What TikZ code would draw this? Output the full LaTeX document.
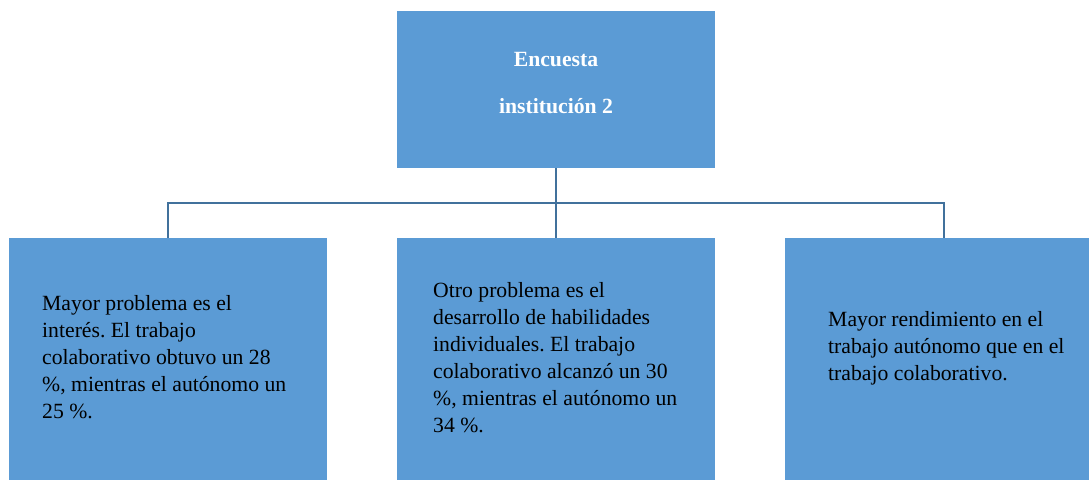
\documentclass[tikz,border=0pt]{standalone}
\usepackage{fontspec}
\setmainfont{Liberation Serif}
\frenchspacing
\definecolor{boxblue}{HTML}{5B9BD5}
\definecolor{linkblue}{HTML}{41719C}
\tikzset{
  x=1pt, y=-1pt,
  box/.style={rectangle, fill=boxblue, draw=none, inner sep=0pt, anchor=north west},
  link/.style={draw=linkblue, line width=2.4pt},
  bodytext/.style={anchor=north west, inner sep=0pt, align=left, text=black,
    font=\fontsize{21.7}{27}\selectfont\frenchspacing},
  headtext/.style={anchor=north, inner sep=0pt, align=center, text=white,
    font=\fontsize{21.7}{47}\selectfont\bfseries}
}
\begin{document}
\begin{tikzpicture}
\clip (0,0) rectangle (1089,479);
\fill[white] (0,0) rectangle (1089,479);
% boxes
\node[box, minimum width=318pt, minimum height=157pt] (top) at (397,11) {};
\node[box, minimum width=318pt, minimum height=250pt] (left) at (9,238) {};
\node[box, minimum width=318pt, minimum height=250pt] (mid) at (397,238) {};
\node[box, minimum width=318pt, minimum height=250pt] (right) at (785,238) {};
% connectors
\coordinate (bus) at (0,203);
\draw[link] (top.south) -- (mid.north);
\draw[link] (left.north) -- (left.north |- bus) -- (right.north |- bus) -- (right.north);
% texts
\node[headtext] (ht) at (556,52) {Encuesta\\institución 2};
\node[bodytext] (lt) at (42,295) {Mayor problema es el\\interés. El trabajo\\colaborativo obtuvo un 28\\\%, mientras el autónomo un\\25 \%.};
\node[bodytext] (mt) at (433,282) {Otro problema es el\\desarrollo de habilidades\\individuales. El trabajo\\colaborativo alcanzó un 30\\\%, mientras el autónomo un\\34 \%.};
\node[bodytext] (rt) at (828,311) {Mayor rendimiento en el\\trabajo autónomo que en el\\trabajo colaborativo.};
\end{tikzpicture}
\end{document}
